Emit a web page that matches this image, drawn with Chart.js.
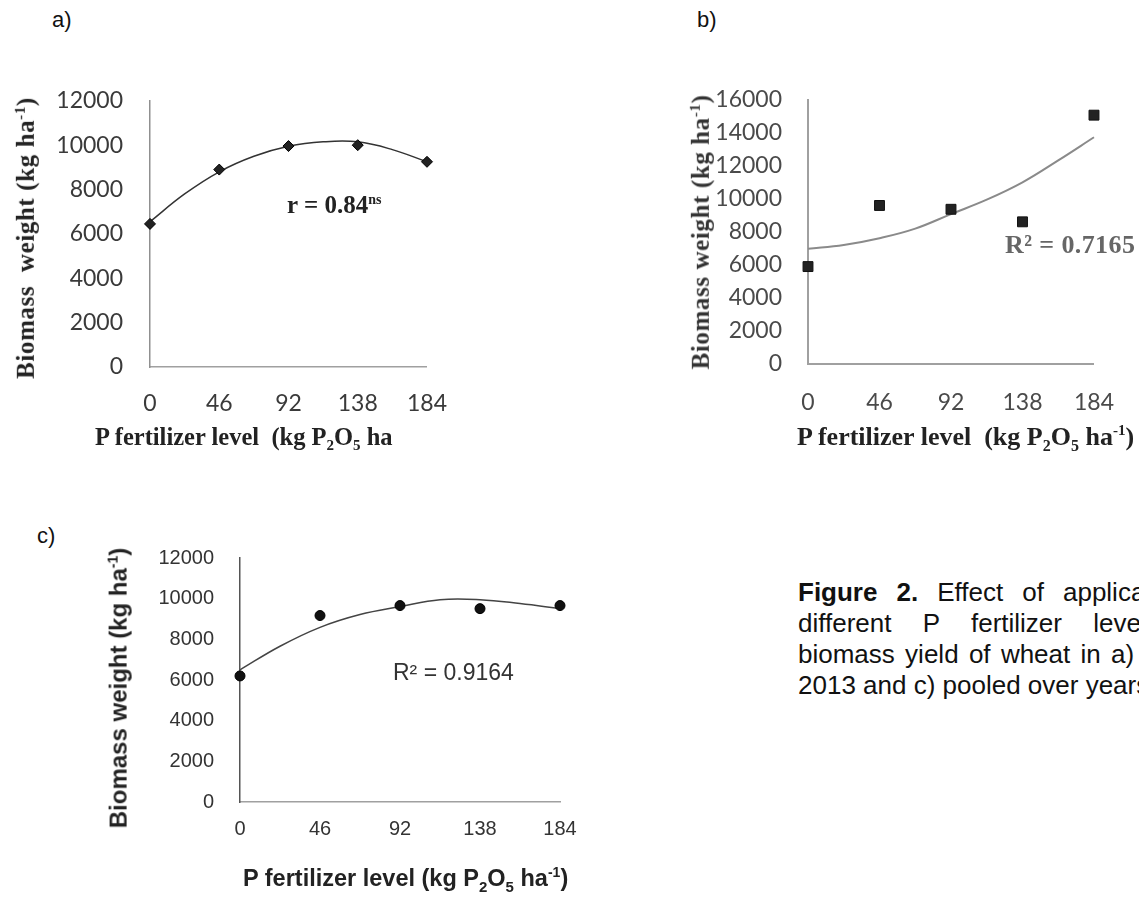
<!DOCTYPE html>
<html><head><meta charset="utf-8">
<title>Figure 2 - Biomass weight vs P fertilizer level</title>
<script src="https://cdn.jsdelivr.net/npm/chart.js"></script>
<style>
  body {
    margin: 0;
    width: 1139px;
    height: 897px;
    overflow: hidden;
    position: relative;
    background: #ffffff;
    font-family: 'Liberation Sans', Arial, sans-serif;
    color: #111;
  }
  .box { position: absolute; }
  .txt { position: absolute; white-space: nowrap; line-height: 1.2; transform: translateY(-50%); }
  .vt { position: absolute; white-space: nowrap; line-height: 1.2; transform: translate(-50%, -50%) rotate(-90deg); }
  .serif { font-family: 'Liberation Serif', 'Times New Roman', serif; font-weight: bold; }
  .sansb { font-weight: bold; }
  .panel { position: absolute; font-size: 22px; line-height: 1; }
  #caption { position: absolute; left: 798px; top: 577px; font-size: 26px; line-height: 31px; }
  #caption .j { text-align: justify; text-align-last: justify; white-space: nowrap; }
</style>
</head>
<body>

<div class="panel" style="left:52px; top:9px;">a)</div>
<div class="panel" style="left:697px; top:9px;">b)</div>
<div class="panel" style="left:37px; top:525px;">c)</div>

<div class="box" style="left:0px; top:60px; width:470px; height:400px;"><canvas id="chartA"></canvas></div>
<div class="box" style="left:690px; top:60px; width:449px; height:400px;"><canvas id="chartB"></canvas></div>
<div class="box" style="left:60px; top:520px; width:540px; height:377px;"><canvas id="chartC"></canvas></div>

<!-- axis titles and annotations -->
<div class="vt serif" style="left:26px; top:238px; font-size:25px; letter-spacing:0.6px; color:#222;">Biomass&nbsp; weight (kg ha<sup style="font-size:15px">-1</sup>)</div>
<div class="txt serif" style="left:95px; top:438px; font-size:24.5px; color:#222;">P fertilizer level&nbsp; (kg P<sub style="font-size:15px">2</sub>O<sub style="font-size:15px">5</sub> ha</div>
<div class="txt serif" style="left:287px; top:205px; font-size:25px; color:#222;">r = 0.84<sup style="font-size:14px">ns</sup></div>

<div class="vt serif" style="left:701px; top:232px; font-size:25px; letter-spacing:0.6px; color:#333;">Biomass weight (kg ha<sup style="font-size:15px">-1</sup>)</div>
<div class="txt serif" style="left:797px; top:438px; font-size:26px; color:#222;">P fertilizer level&nbsp; (kg P<sub style="font-size:16px">2</sub>O<sub style="font-size:16px">5</sub> ha<sup style="font-size:15px">-1</sup>)</div>
<div class="txt serif" style="left:1005px; top:245px; font-size:26px; letter-spacing:0.4px; color:#666;">R² = 0.7165</div>

<div class="vt sansb" style="left:119px; top:688px; font-size:24px; color:#222;">Biomass weight (kg ha<sup style="font-size:14px">-1</sup>)</div>
<div class="txt sansb" style="left:243px; top:880px; font-size:23.5px; color:#222;">P fertilizer level (kg P<sub style="font-size:15px">2</sub>O<sub style="font-size:15px">5</sub> ha<sup style="font-size:14px">-1</sup>)</div>
<div class="txt" style="left:393px; top:673px; font-size:23px; color:#333;">R² = 0.9164</div>

<div id="caption">
  <div class="j" style="width:430px;"><b>Figure 2.</b> Effect of application of</div>
  <div class="j" style="width:422px;">different P fertilizer levels on</div>
  <div class="j" style="width:445px;">biomass yield of wheat in a) 2012, b)</div>
  <div>2013 and c) pooled over years.</div>
</div>

<script>
// P fertilizer levels (kg P2O5 ha-1)
const pLevels = [0, 46, 92, 138, 184];

// observed biomass weight (kg ha-1)
const biomassA = [6450, 8900, 9960, 10000, 9250];
const biomassB = [5900, 9600, 9370, 8610, 15070];
const biomassC = [6200, 9170, 9660, 9510, 9660];

// fitted trend lines
const trendX = [0, 23, 46, 69, 92, 115, 138, 161, 184];
const trendA = [6550, 7800, 8800, 9500, 9950, 10150, 10150, 9800, 9250];
const trendB = [6980, 7210, 7620, 8200, 9080, 9950, 11000, 12330, 13730];
const trendC = [6500, 7660, 8590, 9220, 9610, 9950, 9950, 9760, 9510];

// tick labels
const yTicksAC = [0, 2000, 4000, 6000, 8000, 10000, 12000];
const yTicksB = [0, 2000, 4000, 6000, 8000, 10000, 12000, 14000, 16000];

function toPoints(xs, ys) {
  return xs.map((x, i) => ({ x: x, y: ys[i] }));
}

function makeChart(id, cfg) {
  new Chart(document.getElementById(id), {
    type: 'scatter',
    data: {
      datasets: [
        {
          data: toPoints(pLevels, cfg.points),
          pointStyle: cfg.pointStyle,
          pointRadius: cfg.pointRadius,
          backgroundColor: cfg.pointColor,
          borderColor: cfg.pointBorder,
          borderWidth: 1,
          clip: false
        },
        {
          data: toPoints(trendX, cfg.trend),
          showLine: true,
          pointRadius: 0,
          borderColor: cfg.lineColor,
          borderWidth: cfg.lineWidth,
          tension: 0.4,
          clip: false
        }
      ]
    },
    options: {
      responsive: true,
      maintainAspectRatio: false,
      animation: false,
      layout: { padding: { left: 0, top: cfg.top, right: cfg.right, bottom: 0 } },
      plugins: { legend: { display: false }, tooltip: { enabled: false } },
      scales: {
        x: {
          type: 'linear',
          min: 0,
          max: 184,
          afterBuildTicks: s => { s.ticks = pLevels.map(v => ({ value: v })); },
          afterFit: s => { s.height = cfg.xHeight; },
          grid: { display: false, drawTicks: false },
          border: { color: cfg.xAxisColor, width: cfg.axisWidth },
          ticks: { font: cfg.tickFont, color: cfg.tickColor, padding: cfg.xPad, maxRotation: 0,
                   callback: v => String(v) }
        },
        y: {
          min: 0,
          max: cfg.yTicks[cfg.yTicks.length - 1],
          afterBuildTicks: s => { s.ticks = cfg.yTicks.map(v => ({ value: v })); },
          afterFit: s => { s.width = cfg.yWidth; },
          grid: { display: false, drawTicks: false },
          border: { color: cfg.yAxisColor, width: cfg.axisWidth },
          ticks: { font: cfg.tickFont, color: cfg.tickColor, padding: cfg.yPad,
                   callback: v => String(v) }
        }
      }
    }
  });
}

makeChart('chartA', {
  points: biomassA, trend: trendA, yTicks: yTicksAC,
  pointStyle: 'rectRot', pointRadius: 5.5, pointColor: '#222', pointBorder: '#000',
  lineColor: '#333', lineWidth: 1.5,
  top: 36, right: 38, xHeight: 93, yWidth: 150,
  xAxisColor: '#a0a0a0', yAxisColor: '#909090', axisWidth: 1.5,
  tickFont: { family: 'Lato, "Open Sans", sans-serif', size: 23 }, tickColor: '#3a3a3a',
  xPad: 23, yPad: 27
});

makeChart('chartB', {
  points: biomassB, trend: trendB, yTicks: yTicksB,
  pointStyle: 'rect', pointRadius: 7, pointColor: '#222', pointBorder: '#111',
  lineColor: '#8a8a8a', lineWidth: 2,
  top: 29, right: 23, xHeight: 96, yWidth: 118,
  xAxisColor: '#a0a0a0', yAxisColor: '#a0a0a0', axisWidth: 2,
  tickFont: { family: 'Lato, "Open Sans", sans-serif', size: 23 }, tickColor: '#4a4a4a',
  xPad: 25, yPad: 26
});

makeChart('chartC', {
  points: biomassC, trend: trendC, yTicks: yTicksAC,
  pointStyle: 'circle', pointRadius: 5, pointColor: '#111', pointBorder: '#000',
  lineColor: '#444', lineWidth: 1.5,
  top: 36, right: 40, xHeight: 95, yWidth: 180,
  xAxisColor: '#a0a0a0', yAxisColor: '#555', axisWidth: 1.5,
  tickFont: { family: '"Liberation Sans", Arial, sans-serif', size: 20 }, tickColor: '#333',
  xPad: 15, yPad: 26
});
</script>
</body></html>
